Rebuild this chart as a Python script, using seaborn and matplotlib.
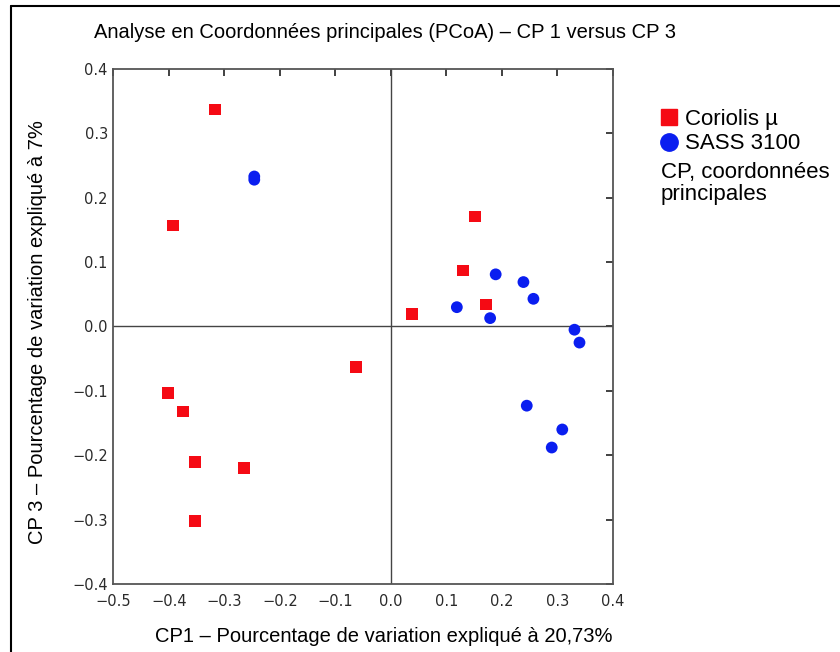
import matplotlib
matplotlib.use("Agg")
import matplotlib.pyplot as plt
import seaborn as sns
import pandas as pd
from matplotlib.lines import Line2D

# PCoA scores, axis 1 vs axis 3
coriolis_cp1 = [-0.317, -0.393, -0.063, -0.402, -0.375, -0.353, -0.264, -0.353,
                0.152, 0.130, 0.171, 0.038]
coriolis_cp3 = [0.337, 0.157, -0.063, -0.103, -0.132, -0.210, -0.220, -0.302,
                0.171, 0.087, 0.034, 0.020]
sass_cp1 = [-0.246, -0.246, 0.189, 0.239, 0.257, 0.119, 0.179, 0.331, 0.340,
            0.245, 0.309, 0.290]
sass_cp3 = [0.233, 0.228, 0.081, 0.069, 0.043, 0.030, 0.013, -0.005, -0.025,
            -0.123, -0.160, -0.188]

groups = ["Coriolis µ", "SASS 3100"]
x_ticks = [-0.5, -0.4, -0.3, -0.2, -0.1, 0.0, 0.1, 0.2, 0.3, 0.4]
y_ticks = [-0.4, -0.3, -0.2, -0.1, 0.0, 0.1, 0.2, 0.3, 0.4]

df = pd.DataFrame({
    "CP1": coriolis_cp1 + sass_cp1,
    "CP3": coriolis_cp3 + sass_cp3,
    "groupe": [groups[0]] * len(coriolis_cp1) + [groups[1]] * len(sass_cp1),
})

sns.set_style("white")
plt.rcParams["font.family"] = ["Liberation Sans", "DejaVu Sans"]
plt.rcParams["text.color"] = "black"

W, H = 840, 652
fig = plt.figure(figsize=(W / 100, H / 100), dpi=100)
ax = fig.add_axes([0.1349, 0.1043, 0.5946, 0.7899])

palette = {groups[0]: "#f50a14", groups[1]: "#0a1ef0"}
markers = {groups[0]: "s", groups[1]: "o"}

ax.axhline(0, color="#444444", lw=1.0, zorder=1)
ax.axvline(0, color="#444444", lw=1.0, zorder=1)

sns.scatterplot(data=df, x="CP1", y="CP3", hue="groupe", style="groupe",
                palette=palette, markers=markers, s=72, linewidth=0,
                ax=ax, legend=False, zorder=3)

ax.set_xlim(-0.5, 0.4)
ax.set_ylim(-0.4, 0.4)
ax.set_xlabel("")
ax.set_ylabel("")
ax.set_xticks(x_ticks)
ax.set_yticks(y_ticks)
ax.set_xticklabels([f"{v:.1f}".replace("-", "\u2212") for v in x_ticks],
                   family="DejaVu Sans", fontsize=10.5, color="#2a2a2a")
ax.set_yticklabels([f"{v:.1f}".replace("-", "\u2212") for v in y_ticks],
                   family="DejaVu Sans", fontsize=10.5, color="#2a2a2a")
ax.tick_params(direction="in", length=5, width=1.3, color="#333333",
               top=True, right=True, labeltop=False, labelright=False, pad=4)
ax.tick_params(axis="x", pad=7)
for sp in ax.spines.values():
    sp.set_color("#555555")
    sp.set_linewidth(1.3)
    sp.set_visible(True)

# axis titles and main title
fig.text(383.5 / W, 1 - 636 / H,
         "CP1 \u2013 Pourcentage de variation expliqué à 20,73%",
         ha="center", va="center", fontsize=14.5)
fig.text(38 / W, 1 - 332 / H,
         "CP 3 \u2013 Pourcentage de variation expliqué à 7%",
         ha="center", va="center", rotation=90, fontsize=14.5)
fig.text(385 / W, 1 - 33 / H,
         "Analyse en Coordonnées principales (PCoA) \u2013 CP 1 versus CP 3",
         ha="center", va="center", fontsize=14.5)

# legend
handles = [
    Line2D([], [], marker="s", ls="", color=palette[groups[0]], markersize=11.5),
    Line2D([], [], marker="o", ls="", color=palette[groups[1]], markersize=12.5),
]
fig.legend(handles, groups, loc="upper left",
           bbox_to_anchor=(661 / W, 1 - 109 / H),
           frameon=False, fontsize=16, handlelength=0.75, handletextpad=0.35,
           labelspacing=0.15, borderpad=0, borderaxespad=0)
fig.text(661 / W, 1 - 162 / H, "CP, coordonnées\nprincipales", ha="left", va="top",
         fontsize=16, linespacing=1.08)

# outer frame lines
fig.add_artist(Line2D([11 / W, 1.0], [1 - 6 / H, 1 - 6 / H],
                      transform=fig.transFigure, color="black", lw=1.5))
fig.add_artist(Line2D([11 / W, 11 / W], [0.0, 1 - 6 / H],
                      transform=fig.transFigure, color="black", lw=1.5))

fig.savefig("out.png", dpi=100, facecolor="white")
